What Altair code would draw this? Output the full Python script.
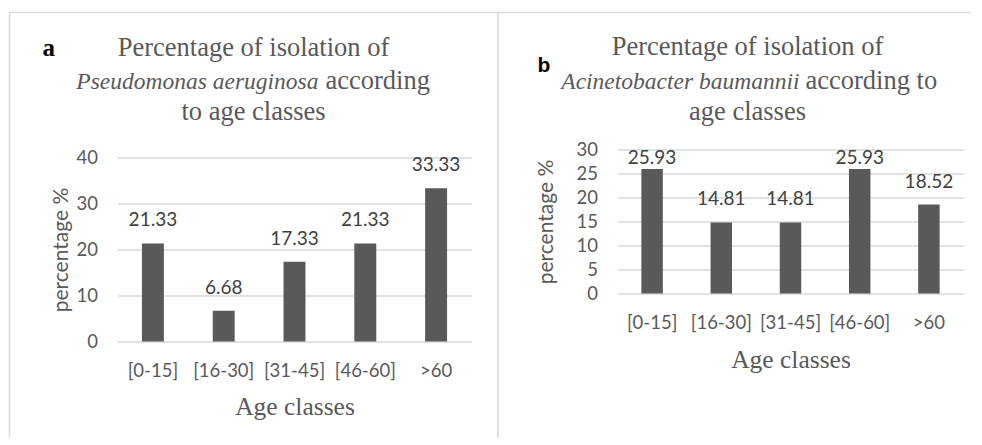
import altair as alt
import pandas as pd

categories = ["[0-15]", "[16-30]", "[31-45]", "[46-60]", ">60"]
pa_values = [21.33, 6.68, 17.33, 21.33, 33.33]
ab_values = [25.93, 14.81, 14.81, 25.93, 18.52]

title_a = ["Percentage of isolation of", "Pseudomonas aeruginosa", "according", "to age classes"]
title_b = ["Percentage of isolation of", "Acinetobacter baumannii", "according to", "age classes"]
x_title = "Age classes"
y_title = "percentage %"
panel_letters = ["a", "b"]

GREY = "#595959"
GRID = "#d9d9d9"
SERIF = "Liberation Serif"
SANS = "Lato"


def one(data):
    return alt.Chart(alt.InlineData(values=[{"t": data}]))


def txt(s, x, y, align="center", italic=False, size=26.5, font=SERIF, color=GREY, bold=False):
    kw = dict(align=align, baseline="alphabetic", font=font, fontSize=size, color=color)
    if italic:
        kw["fontStyle"] = "italic"
    if bold:
        kw["fontWeight"] = "bold"
    return one(s).mark_text(**kw).encode(text="t:N", x=alt.value(x), y=alt.value(y))


def rule(x, x2, y, y2):
    return one("r").mark_rule(color=GRID, strokeWidth=1.5).encode(
        x=alt.value(x), x2=alt.value(x2), y=alt.value(y), y2=alt.value(y2))


def panel(values, width, height, yscale, yticks, ytitle_pad, xtitle_pad, label_field, label_dy, extra):
    df = pd.DataFrame({"cat": categories, "val": values})
    base = alt.Chart(df)
    xaxis = alt.Axis(title=x_title, labelAngle=0, ticks=False, domain=False,
                     labelFont=SANS, labelFontSize=18.5, labelColor=GREY, labelPadding=19.5,
                     titleFont=SERIF, titleFontSize=25.5, titleFontWeight="normal",
                     titleColor=GREY, titlePadding=xtitle_pad)
    yaxis = alt.Axis(title=y_title, values=yticks, ticks=False, domain=False,
                     grid=True, gridColor=GRID, gridWidth=1.3, labelOverlap=False,
                     labelFont=SANS, labelFontSize=18.5, labelColor=GREY, labelPadding=20,
                     titleFont=SANS, titleFontSize=21, titleFontWeight="normal",
                     titleColor=GREY, titlePadding=ytitle_pad)
    xscale = alt.Scale(paddingInner=0.69, paddingOuter=0.345)
    bars = base.mark_bar(color=GREY).encode(
        x=alt.X("cat:N", sort=categories, scale=xscale, axis=xaxis),
        y=alt.Y("val:Q", scale=yscale, axis=yaxis))
    labels = base.transform_calculate(ly=label_field).mark_text(
        baseline="middle", dy=label_dy, font=SANS, fontSize=19, color="#404040").encode(
        x=alt.X("cat:N", sort=categories, scale=xscale, axis=xaxis),
        y=alt.Y("ly:Q", scale=yscale, axis=yaxis, title=y_title),
        text=alt.Text("val:Q", format=".2f"))
    return alt.layer(bars, labels, *extra).properties(width=width, height=height)


extra_a = [
    rule(-108, 853, -137, -137),
    rule(-108, -108, -137, 288),
    rule(380.5, 380.5, -137, 288),
    txt(panel_letters[0], -75, -94, align="left", bold=True, size=25, color="black"),
    txt(title_a[0], 136, -94),
    txt(title_a[1], 201, -61, align="right", italic=True, size=23.5),
    txt(title_a[2], 208, -61, align="left"),
    txt(title_a[3], 136, -30),
]

extra_b = [
    txt(panel_letters[1], -80, -78, align="left", bold=True, size=21, font="Liberation Sans", color="black"),
    txt(title_b[0], 130, -95),
    txt(title_b[1], 182, -61, align="right", italic=True, size=23.5),
    txt(title_b[2], 188, -61, align="left"),
    txt(title_b[3], 130, -30),
]

pa = panel(pa_values, 354, 192, alt.Scale(domain=[0, 40], range=[192, 8]), [0, 10, 20, 30, 40],
           5, 14.5, "datum.val", -23, extra_a)
ab = panel(ab_values, 346, 144, alt.Scale(domain=[0, 30]), [0, 5, 10, 15, 20, 25, 30],
           20, 15.5, "min(datum.val + 4.79, 28.2)", 0, extra_b)

chart = alt.hconcat(pa, ab, spacing=146, bounds="flush").properties(
    padding={"left": 0.5, "top": 3.5, "right": 0, "bottom": 0}
).configure_view(stroke=None)

chart.save("out.html", embed_options={"renderer": "svg", "actions": False})
